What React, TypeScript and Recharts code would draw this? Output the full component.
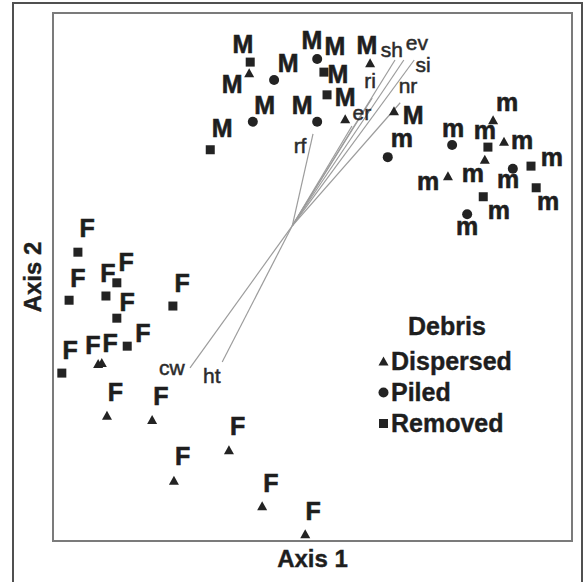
import {
  ScatterChart,
  Scatter,
  XAxis,
  YAxis,
  ReferenceArea,
  ReferenceLine,
  Legend,
} from "recharts";

const FONT = '"Liberation Sans", Arial, Helvetica, sans-serif';
const MARK = "#232323";
const INK = "#1e1e1e";

// Site scores on the two ordination axes (plotted on a 0-100 scale)
const dispersed = [
  { x: 37.8, y: 88.6 },
  { x: 61.1, y: 90.5 },
  { x: 56.3, y: 79.9 },
  { x: 65.7, y: 81.4 },
  { x: 84.8, y: 79.7 },
  { x: 86.9, y: 75.6 },
  { x: 83.2, y: 72.2 },
  { x: 76.1, y: 69.1 },
  { x: 8.7, y: 33.5 },
  { x: 9.4, y: 33.7 },
  { x: 10.4, y: 23.7 },
  { x: 19.1, y: 22.9 },
  { x: 33.9, y: 17.2 },
  { x: 23.3, y: 11.4 },
  { x: 40.3, y: 6.6 },
  { x: 48.6, y: 1.3 },
];

const piled = [
  { x: 42.6, y: 87.3 },
  { x: 38.5, y: 79.4 },
  { x: 50.9, y: 91.3 },
  { x: 50.9, y: 79.4 },
  { x: 64.5, y: 72.7 },
  { x: 76.9, y: 75.0 },
  { x: 88.6, y: 70.5 },
  { x: 79.8, y: 61.9 },
];

const removed = [
  { x: 38.0, y: 90.7 },
  { x: 30.3, y: 74.1 },
  { x: 52.2, y: 88.8 },
  { x: 52.8, y: 84.5 },
  { x: 83.8, y: 74.6 },
  { x: 92.1, y: 71.0 },
  { x: 93.1, y: 66.9 },
  { x: 82.9, y: 65.2 },
  { x: 4.8, y: 54.7 },
  { x: 3.1, y: 45.6 },
  { x: 12.3, y: 48.9 },
  { x: 10.2, y: 46.4 },
  { x: 12.3, y: 42.2 },
  { x: 23.1, y: 44.5 },
  { x: 14.3, y: 36.9 },
  { x: 1.7, y: 31.8 },
];

// Group letters written next to the sites
const siteLabels = [
  { text: "M", x: 36.6, y: 94.1 },
  { text: "M", x: 34.5, y: 86.6 },
  { text: "M", x: 45.3, y: 90.5 },
  { text: "M", x: 40.8, y: 82.6 },
  { text: "M", x: 32.6, y: 78.2 },
  { text: "M", x: 49.9, y: 94.9 },
  { text: "M", x: 54.3, y: 93.7 },
  { text: "M", x: 54.9, y: 88.4 },
  { text: "M", x: 56.3, y: 84.0 },
  { text: "M", x: 48.0, y: 82.6 },
  { text: "M", x: 60.5, y: 93.9 },
  { text: "M", x: 69.4, y: 80.7 },
  { text: "m", x: 67.2, y: 75.9 },
  { text: "m", x: 87.5, y: 82.6 },
  { text: "m", x: 77.1, y: 77.8 },
  { text: "m", x: 83.2, y: 77.3 },
  { text: "m", x: 90.4, y: 75.4 },
  { text: "m", x: 80.9, y: 69.3 },
  { text: "m", x: 72.3, y: 67.8 },
  { text: "m", x: 87.7, y: 68.0 },
  { text: "m", x: 96.1, y: 72.2 },
  { text: "m", x: 95.4, y: 64.0 },
  { text: "m", x: 85.9, y: 62.3 },
  { text: "m", x: 79.8, y: 59.1 },
  { text: "F", x: 6.6, y: 59.3 },
  { text: "F", x: 4.8, y: 49.8 },
  { text: "F", x: 14.1, y: 52.8 },
  { text: "F", x: 10.6, y: 50.8 },
  { text: "F", x: 14.3, y: 45.3 },
  { text: "F", x: 24.9, y: 48.9 },
  { text: "F", x: 17.3, y: 39.4 },
  { text: "F", x: 3.3, y: 36.2 },
  { text: "F", x: 7.7, y: 37.1 },
  { text: "F", x: 11.0, y: 37.5 },
  { text: "F", x: 12.0, y: 28.2 },
  { text: "F", x: 20.8, y: 27.5 },
  { text: "F", x: 35.6, y: 21.8 },
  { text: "F", x: 25.0, y: 16.1 },
  { text: "F", x: 42.0, y: 11.0 },
  { text: "F", x: 50.1, y: 5.7 },
];

// Joint-plot vectors for the habitat variables
const vectorOrigin = { x: 46.1, y: 59.7 };
const vectorNames = ["rf", "er", "ri", "sh", "ev", "si", "nr", "cw", "ht"];
const vectorTipX = [50.1, 57.6, 61.5, 65.9, 67.6, 69.6, 66.9, 26.4, 32.6];
const vectorTipY = [77.1, 78.6, 83.9, 91.1, 91.1, 91.1, 83.0, 32.8, 33.9];
const vectorLabelX = [47.6, 59.5, 61.1, 65.3, 70.1, 71.3, 68.4, 22.9, 30.6];
const vectorLabelY = [73.5, 79.7, 85.8, 91.7, 93.0, 88.8, 84.8, 31.4, 29.9];

const vectorLabels = vectorNames.map((name, i) => ({
  text: name,
  x: vectorLabelX[i],
  y: vectorLabelY[i],
}));

function Triangle({ cx, cy }: any) {
  return (
    <polygon
      points={`${cx},${cy - 5} ${cx + 5},${cy + 4} ${cx - 5},${cy + 4}`}
      fill={MARK}
    />
  );
}

function Dot({ cx, cy }: any) {
  return <circle cx={cx} cy={cy} r={5} fill={MARK} />;
}

function Square({ cx, cy }: any) {
  return <rect x={cx - 4.5} y={cy - 4.5} width={9} height={9} fill={MARK} />;
}

function SiteLetter({ cx, cy, payload }: any) {
  // lift so the glyph body sits centred on the site position
  const lift = payload.text === "m" ? 0.26 : 0.36;
  return (
    <text
      x={cx}
      y={cy}
      dy={`${lift}em`}
      textAnchor="middle"
      fontSize={25}
      fontWeight="bold"
      fontFamily={FONT}
      fill={INK}
      stroke={INK}
      strokeWidth={0.6}
    >
      {payload.text}
    </text>
  );
}

function VectorName({ cx, cy, payload }: any) {
  return (
    <text
      x={cx}
      y={cy}
      textAnchor="middle"
      fontSize={21}
      fontFamily={FONT}
      fill="#2b2b2b"
      stroke="#2b2b2b"
      strokeWidth={0.5}
    >
      {payload.text}
    </text>
  );
}

const legendSymbols: Record<string, (p: any) => any> = {
  triangle: Triangle,
  circle: Dot,
  square: Square,
};

function DebrisLegend({ payload }: any) {
  const items = (payload || []).filter((e: any) => e.type !== "none");
  return (
    <div
      style={{
        fontFamily: FONT,
        fontWeight: "bold",
        fontSize: 25,
        color: INK,
        WebkitTextStroke: "0.4px #1e1e1e",
      }}
    >
      <div style={{ lineHeight: "31px", paddingLeft: 30, marginBottom: 4 }}>Debris</div>
      {items.map((entry: any) => {
        const Symbol = legendSymbols[entry.type];
        return (
          <div
            key={entry.value}
            style={{ display: "flex", alignItems: "center", lineHeight: "31px" }}
          >
            <svg width={11} height={11} style={{ marginRight: 2 }}>
              <Symbol cx={5.5} cy={5.5} />
            </svg>
            <span>{entry.value}</span>
          </div>
        );
      })}
    </div>
  );
}

const titleStyle = {
  fontFamily: FONT,
  fontSize: 24,
  fontWeight: "bold",
  fill: INK,
  stroke: INK,
  strokeWidth: 0.4,
};

export default function App() {
  return (
    <div
      style={{
        position: "absolute",
        left: 0,
        top: 0,
        width: 587,
        height: 582,
        overflow: "hidden",
        background: "#fff",
        fontFamily: FONT,
      }}
    >
      <div
        style={{
          position: "absolute",
          left: 12,
          top: 2,
          width: 567,
          height: 640,
          border: "2px solid #505050",
        }}
      />
      <ScatterChart
        width={587}
        height={582}
        margin={{ top: 13, right: 15, bottom: 0, left: 0 }}
        style={{ position: "absolute", left: 0, top: 0 }}
      >
        <XAxis
          type="number"
          dataKey="x"
          domain={[0, 100]}
          height={41}
          tick={false}
          tickLine={false}
          axisLine={false}
          label={{
            value: "Axis 1",
            position: "insideBottom",
            offset: 15,
            style: titleStyle,
          }}
        />
        <YAxis
          type="number"
          dataKey="y"
          domain={[0, 100]}
          width={53}
          tick={false}
          tickLine={false}
          axisLine={false}
          label={{
            value: "Axis 2",
            angle: -90,
            position: "insideLeft",
            offset: 32,
            style: { ...titleStyle, textAnchor: "middle" },
          }}
        />
        <ReferenceArea
          x1={0}
          x2={100}
          y1={0}
          y2={100}
          fill="none"
          stroke="#7b7b7b"
          strokeWidth={2}
        />
        {vectorNames.map((name, i) => (
          <ReferenceLine
            key={name}
            segment={[
              { x: vectorOrigin.x, y: vectorOrigin.y },
              { x: vectorTipX[i], y: vectorTipY[i] },
            ]}
            stroke="#9c9c9c"
            strokeWidth={1.2}
          />
        ))}
        <Scatter
          name="Dispersed"
          data={dispersed}
          legendType="triangle"
          shape={Triangle}
          isAnimationActive={false}
        />
        <Scatter
          name="Piled"
          data={piled}
          legendType="circle"
          shape={Dot}
          isAnimationActive={false}
        />
        <Scatter
          name="Removed"
          data={removed}
          legendType="square"
          shape={Square}
          isAnimationActive={false}
        />
        <Scatter
          name="groups"
          data={siteLabels}
          legendType="none"
          shape={SiteLetter}
          isAnimationActive={false}
        />
        <Scatter
          name="variables"
          data={vectorLabels}
          legendType="none"
          shape={VectorName}
          isAnimationActive={false}
        />
        <Legend
          layout="vertical"
          align="center"
          verticalAlign="middle"
          wrapperStyle={{ left: 378, top: 311, width: 200 }}
          content={DebrisLegend}
        />
      </ScatterChart>
    </div>
  );
}
